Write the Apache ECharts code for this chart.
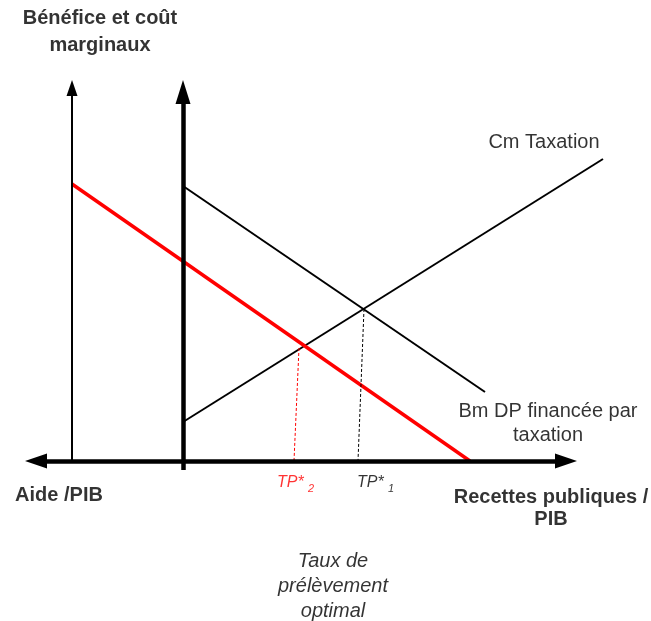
<!DOCTYPE html>
<html>
<head>
<meta charset="utf-8">
<script src="https://cdn.jsdelivr.net/npm/echarts@6/dist/echarts.min.js"></script>
<style>
  html, body { margin: 0; padding: 0; background: #fff; }
  #main { width: 651px; height: 621px; }
</style>
</head>
<body>
<div id="main"></div>
<script>
// unités du schéma : origine = intersection des deux axes épais
let cmTaxation = [[0, 3.9], [42, 30.2]];
let bmTaxation = [[0, 27.5], [30.2, 6.9]];
let bmAide = [[-11.1, 27.7], [28.7, 0]];
let tp1Line = [[18.1, 15.2], [17.5, 0]];
let tp2Line = [[11.6, 11.3], [11.1, 0]];

// axes (le dernier point = centre de la flèche)
let axeVertical = [[0, -0.9], [0, 36.9]];
let axeAide = [[-11.1, 0], [-11.1, 37.3]];
let axeHorizontal = [[-14.7, 0], [38.3, 0]];

// textes
let textes = [
  { name: "Bénéfice et coût\nmarginaux", pos: [-8.3, 42.95], style: "titre" },
  { name: "Cm Taxation", pos: [36.1, 31.9], style: "normal" },
  { name: "Bm DP financée par\ntaxation", pos: [36.5, 3.8], style: "normal" },
  { name: "Aide /PIB", pos: [-12.4, -3.4], style: "titre" },
  { name: "Recettes publiques /\nPIB", pos: [36.8, -4.7], style: "titre2" },
  { name: "Taux de\nprélèvement\noptimal", pos: [15.0, -12.55], style: "italique" },
];
let tpTextes = [
  { name: "{a|TP* }{b|2}", pos: [9.4, -2.2], color: "#ff0000" },
  { name: "{a|TP* }{b|1}", pos: [17.4, -2.2], color: "#000000" },
];

let myChart = echarts.init(document.getElementById("main"));

let police = "Liberation Sans, Arial, sans-serif";
let styles = {
  titre: { fontWeight: "bold", fontSize: 20, lineHeight: 27 },
  titre2: { fontWeight: "bold", fontSize: 20, lineHeight: 22 },
  normal: { fontWeight: "normal", fontSize: 20, lineHeight: 24 },
  italique: { fontStyle: "italic", fontSize: 20, lineHeight: 25 },
};

let option = {
  animation: false,
  grid: { left: 0, top: 0, right: 0, bottom: 0 },
  xAxis: { type: "value", min: -18.3, max: 46.8, show: false },
  yAxis: { type: "value", min: -16, max: 46.1, show: false },
  series: [
    {
      name: "Cm Taxation",
      type: "line",
      data: cmTaxation,
      showSymbol: false,
      lineStyle: { color: "#000", width: 2 },
      markLine: {
        silent: true,
        animation: false,
        label: { show: false },
        data: [
          [
            { coord: axeVertical[0], symbol: "none" },
            { coord: axeVertical[1], symbol: "triangle", symbolSize: [15, 24] },
          ],
          [
            { coord: axeAide[0], symbol: "none", lineStyle: { width: 2, color: "#000", type: "solid" } },
            { coord: axeAide[1], symbol: "triangle", symbolSize: [11, 16] },
          ],
          [
            { coord: axeHorizontal[0], symbol: "triangle", symbolSize: [15, 22] },
            { coord: axeHorizontal[1], symbol: "triangle", symbolSize: [15, 22] },
          ],
        ],
        lineStyle: { color: "#000", width: 4.5, type: "solid" },
      },
    },
    {
      name: "Bm DP financée par taxation",
      type: "line",
      data: bmTaxation,
      showSymbol: false,
      lineStyle: { color: "#000", width: 2 },
    },
    {
      name: "Bm aide",
      type: "line",
      data: bmAide,
      showSymbol: false,
      lineStyle: { color: "#ff0000", width: 3.5 },
    },
    {
      name: "TP1",
      type: "line",
      data: tp1Line,
      showSymbol: false,
      lineStyle: { color: "#000", width: 1, type: [3, 2] },
    },
    {
      name: "TP2",
      type: "line",
      data: tp2Line,
      showSymbol: false,
      lineStyle: { color: "#ff0000", width: 1, type: [3, 2] },
    },
    {
      name: "textes",
      type: "scatter",
      symbolSize: 0,
      silent: true,
      data: textes.map(function (t) {
        return {
          name: t.name,
          value: t.pos,
          label: Object.assign(
            {
              show: true,
              position: "inside",
              formatter: "{b}",
              color: "#000",
              textBorderWidth: 0,
              fontFamily: police,
              align: "center",
              verticalAlign: "middle",
            },
            styles[t.style]
          ),
        };
      }),
    },
    {
      name: "tp",
      type: "scatter",
      symbolSize: 0,
      silent: true,
      data: tpTextes.map(function (t) {
        return {
          name: t.name,
          value: t.pos,
          label: {
            show: true,
            position: "right",
            distance: 0,
            formatter: "{b}",
            rich: {
              a: { color: t.color, fontSize: 16, fontStyle: "italic", fontFamily: police, verticalAlign: "middle" },
              b: { color: t.color, fontSize: 11, fontStyle: "italic", fontFamily: police, padding: [12, 0, 0, 0] },
            },
          },
        };
      }),
    },
  ],
};

myChart.setOption(option);
</script>
</body>
</html>
